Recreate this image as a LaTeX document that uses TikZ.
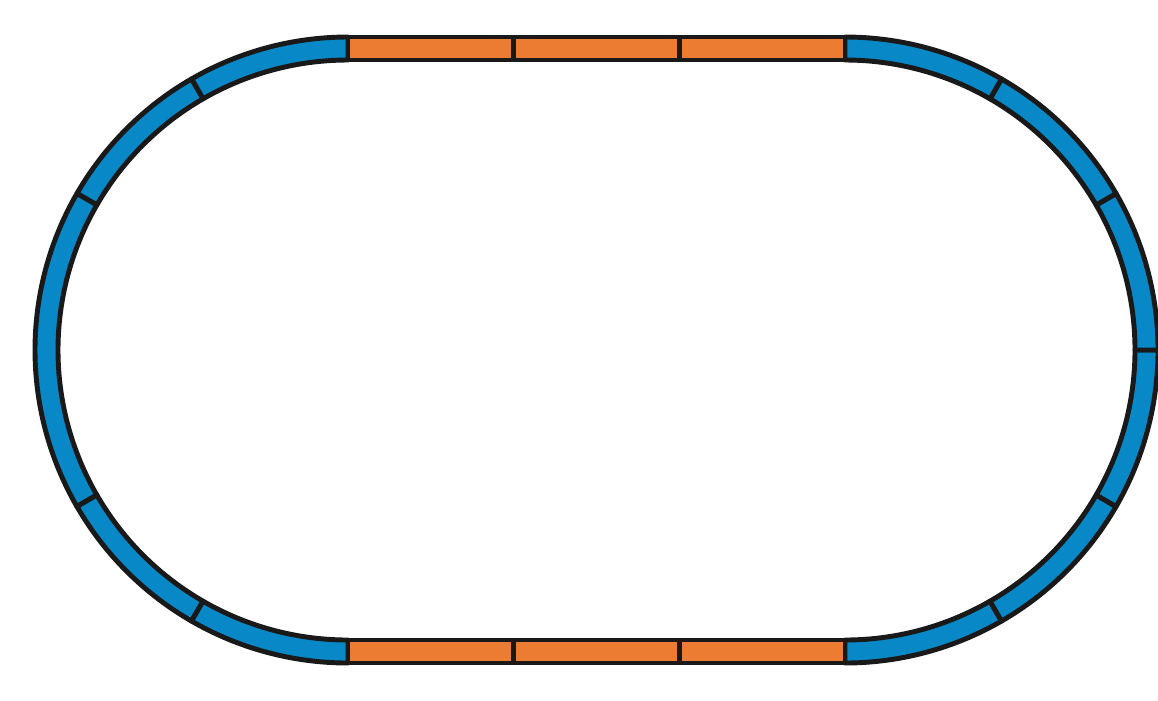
\documentclass[tikz,border=0pt]{standalone}
\usepackage{tikz}
\definecolor{trackblue}{RGB}{8,136,198}
\definecolor{trackorange}{RGB}{236,124,50}
\tikzset{piece/.style={draw=black!90, line width=1.4pt, line join=round},
  curvepiece/.style={piece, fill=trackblue},
  straightpiece/.style={piece, fill=trackorange}
}

\begin{document}
\begin{tikzpicture}
      \useasboundingbox (0,0) rectangle (11.58,7);
      \coordinate (left) at (3.48,3.5);
      \coordinate (right) at (8.45,3.5);
      % curved pieces
      \foreach \a/\b in {90/120,120/150,150/210,210/240,240/270}
        \draw[curvepiece] ([shift={(\a:3.13)}]left) arc[start angle=\a, end angle=\b, radius=3.13]
          -- ([shift={(\b:2.9)}]left) arc[start angle=\b, end angle=\a, radius=2.9] -- cycle;
      \foreach \a/\b in {-90/-60,-60/-30,-30/0,0/30,30/60,60/90}
        \draw[curvepiece] ([shift={(\a:3.13)}]right) arc[start angle=\a, end angle=\b, radius=3.13]
          -- ([shift={(\b:2.9)}]right) arc[start angle=\b, end angle=\a, radius=2.9] -- cycle;
      % straight pieces
      \foreach \x in {3.48,5.137,6.793} {
        \draw[straightpiece] (\x,6.4) rectangle ++(1.657,0.23);
        \draw[straightpiece] (\x,0.37) rectangle ++(1.657,0.23);
      }
    \end{tikzpicture}
\end{document}
